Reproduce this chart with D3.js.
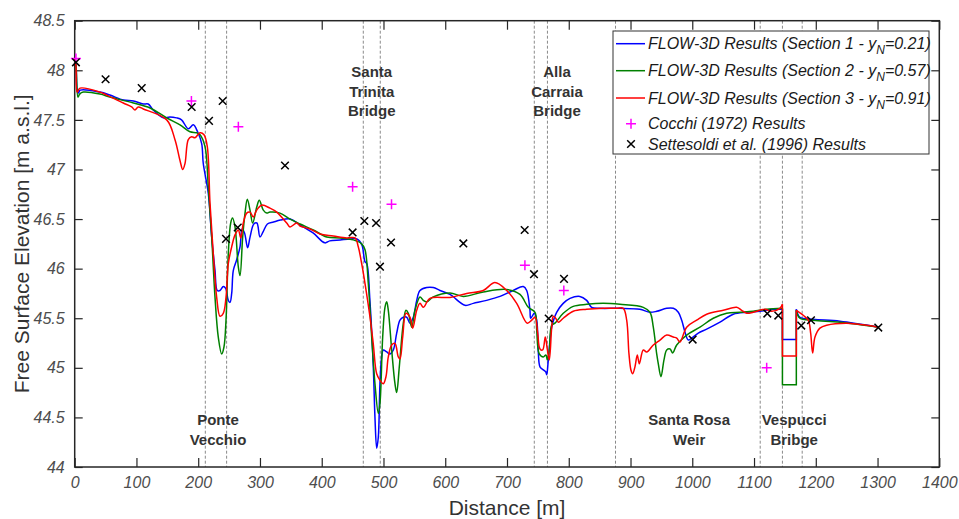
<!DOCTYPE html>
<html><head><meta charset="utf-8">
<script src="https://cdn.jsdelivr.net/npm/d3@7"></script>
<style>body{margin:0;background:#fff} svg{display:block;font-family:"Liberation Sans",Arial,Helvetica,sans-serif}</style>
</head><body><svg id="c" width="959" height="519"></svg>
<script>
// ---------------- DATA ----------------
const xTicks = [0,100,200,300,400,500,600,700,800,900,1000,1100,1200,1300,1400];
const yTicks = [44,44.5,45,45.5,46,46.5,47,47.5,48,48.5];

const section1 = [[0,48.10],[2,48.05],[4,47.80],[6,47.77],[9,47.80],[41,47.78],[57,47.75],[79,47.70],[95,47.69],[111,47.66],[119,47.66],[127,47.60],[143.5,47.52],[154,47.53],[165,47.52],[173,47.50],[184,47.41],[192,47.45],[199,47.38],[205.6,47.26],[208.2,47.06],[216.3,46.76],[221.8,46.32],[227.2,45.98],[230.9,45.78],[235.3,45.78],[240.6,45.82],[244.5,45.80],[248.7,45.68],[251.5,45.66],[254.2,45.75],[256.8,45.98],[262.3,46.09],[267.7,46.22],[271,46.40],[275,46.36],[280,46.21],[284,46.32],[290,46.45],[295,46.46],[300,46.32],[305,46.37],[312,46.45],[322,46.47],[333,46.49],[349,46.50],[365,46.44],[386,46.36],[405,46.26],[413,46.28],[430,46.29],[446,46.30],[457,46.30],[465,46.24],[470,46.07],[473,46.05],[478,45.68],[483.5,45.01],[486.2,44.50],[489,44.19],[491.6,44.30],[494.3,44.84],[497.1,45.11],[499.7,45.18],[505.2,45.16],[510.5,45.14],[515.9,45.18],[521.4,45.35],[526.7,45.48],[532,45.51],[537.6,45.51],[542.9,45.45],[548.3,45.51],[553.8,45.68],[559.1,45.78],[570,45.81],[580.6,45.81],[591.5,45.78],[607.7,45.74],[632,45.63],[645.4,45.65],[667,45.68],[688.7,45.72],[710,45.78],[726.4,45.82],[731.9,45.78],[737.2,45.58],[738.4,45.50],[744.2,45.55],[748.1,45.48],[750.7,45.16],[753.4,45.01],[758.8,44.98],[762.7,44.96],[764.3,44.93],[766.9,45.08],[772.4,45.41],[780.4,45.56],[791,45.65],[802,45.70],[818,45.72],[829,45.68],[837,45.61],[850.5,45.60],[883,45.60],[915,45.59],[931.5,45.56],[942.4,45.57],[958.6,45.60],[969.3,45.60],[977.4,45.56],[982.9,45.48],[988.2,45.36],[993.5,45.28],[999,45.30],[1009.7,45.35],[1023.3,45.39],[1044.9,45.46],[1066.4,45.54],[1088,45.56],[1109.6,45.57],[1131,45.59],[1146,45.59],[1146,45.285],[1168.5,45.285],[1168.5,45.59],[1174.3,45.51],[1196,45.49],[1239,45.47],[1302,45.41]];

const section2 = [[0,48.10],[2,48.05],[5.3,47.73],[8,47.76],[14,47.78],[41,47.76],[57,47.73],[95,47.67],[122,47.62],[149,47.52],[170.5,47.45],[186.7,47.38],[197.5,47.37],[203,47.35],[211,47.23],[216.3,46.83],[221.8,46.32],[227.2,45.71],[232.5,45.31],[238,45.14],[241.7,45.21],[245,45.48],[248.7,46.15],[252.6,46.46],[255.5,46.51],[259.6,46.42],[264.9,46.02],[267.7,45.93],[272,46.32],[275.8,46.56],[279.5,46.70],[283.9,46.59],[288.2,46.46],[294.7,46.62],[298.9,46.69],[305.4,46.59],[311,46.56],[316.2,46.57],[332.4,46.56],[348.6,46.50],[365,46.45],[386.3,46.39],[408,46.32],[429.6,46.31],[451,46.29],[464.7,46.25],[470.1,46.19],[475.4,45.85],[480.9,45.31],[486.2,44.84],[491.6,44.54],[494.3,44.64],[498.7,45.31],[502.4,45.61],[505.2,45.665],[507.8,45.58],[513.3,45.18],[518.6,44.84],[521.4,44.75],[525.6,45.01],[532.1,45.45],[536.4,45.58],[540.2,45.55],[545.7,45.41],[551,45.58],[559.1,45.715],[564.5,45.68],[570,45.665],[580.6,45.715],[607.7,45.755],[629.2,45.72],[661.6,45.765],[699.5,45.79],[721,45.74],[734.5,45.61],[745.4,45.56],[748.1,45.38],[752.3,45.14],[758.8,45.11],[763,45.13],[765.2,45.08],[768.5,45.18],[772.4,45.43],[777.7,45.45],[791.1,45.55],[807.3,45.62],[829,45.64],[855.9,45.65],[883,45.64],[920.7,45.61],[931.5,45.56],[936.9,45.41],[942.4,45.14],[945,45.04],[949.3,44.91],[954.2,45.08],[958.6,45.18],[964,45.19],[968.3,45.15],[974.8,45.23],[990.9,45.33],[1012.5,45.41],[1034,45.50],[1055.7,45.55],[1077.3,45.56],[1098.8,45.57],[1120.5,45.59],[1146,45.60],[1146,44.83],[1168.5,44.83],[1168.5,45.58],[1174.3,45.50],[1196,45.48],[1239,45.46],[1302,45.41]];

const section3 = [[0,48.12],[2,48.05],[4,47.78],[8.6,47.82],[41,47.78],[51.8,47.75],[78.7,47.67],[92.3,47.63],[97.6,47.60],[103,47.63],[111,47.61],[149,47.50],[162.4,47.30],[170.5,47.09],[174.9,47.00],[178.6,47.06],[183.9,47.30],[189.4,47.33],[194.8,47.32],[202.9,47.37],[209.4,47.35],[214.7,47.23],[219.1,46.66],[224.4,46.15],[229.9,45.71],[235.3,45.52],[240.6,45.55],[245,45.71],[248.7,46.05],[254.2,46.22],[259.6,46.34],[264.9,46.39],[269,46.31],[273,46.46],[278.5,46.56],[283.9,46.57],[289.2,46.52],[294.7,46.59],[302.8,46.64],[316.2,46.61],[327.1,46.57],[343.3,46.46],[348.6,46.42],[359.5,46.46],[364.8,46.43],[381,46.40],[397.2,46.35],[418.7,46.33],[440.4,46.31],[453.9,46.31],[459.2,46.22],[464.7,46.05],[470.1,45.85],[478.2,45.51],[483.5,45.24],[489,44.94],[494.3,44.875],[499.7,44.84],[504,44.91],[507.8,45.11],[513.3,45.23],[518.6,45.245],[524,45.11],[526.7,45.09],[531.1,45.31],[536.4,45.55],[542.9,45.51],[547.3,45.40],[553.8,45.58],[559.1,45.65],[564.5,45.61],[575.3,45.70],[607.7,45.71],[634.7,45.75],[661.6,45.78],[680.5,45.86],[699.5,45.78],[715.7,45.65],[732.8,45.45],[740,45.48],[745.4,45.51],[749.7,45.35],[753.4,45.19],[757.8,45.18],[762,45.31],[765.2,45.19],[768.5,45.08],[772.4,45.41],[774.9,45.52],[778.8,45.50],[783,45.46],[791.1,45.50],[807.3,45.57],[829,45.59],[855.9,45.60],[877.6,45.60],[888.3,45.60],[893.8,45.48],[897.5,45.14],[900.8,44.975],[903.5,44.94],[907.2,45.01],[911,45.13],[914.2,45.04],[920.7,45.18],[926.2,45.16],[936.9,45.23],[947.7,45.28],[958.6,45.33],[969.3,45.31],[974.8,45.30],[980.1,45.26],[990.9,45.41],[1007.1,45.48],[1023.3,45.54],[1050.2,45.58],[1071.9,45.61],[1080,45.58],[1088.1,45.55],[1098.8,45.56],[1117.7,45.59],[1128.6,45.57],[1142,45.60],[1146,45.64],[1146,45.12],[1168.5,45.12],[1168.5,45.58],[1179.7,45.53],[1187.8,45.48],[1191.7,45.35],[1194.9,45.15],[1198.7,45.31],[1206.7,45.40],[1217.6,45.43],[1249.9,45.45],[1293,45.42],[1302,45.41]];

const cocchi = [[2,48.12],[189,47.69],[265,47.43],[450,46.825],[513,46.65],[729,46.035],[792,45.78],[1120.5,45.00]];
const settesoldi = [[2,48.08],[50,47.91],[108.5,47.82],[189.4,47.63],[217.5,47.49],[239.6,47.69],[245,46.30],[264,46.415],[340.5,47.04],[450,46.365],[469,46.48],[488,46.46],[494.3,46.02],[512.2,46.264],[629.3,46.254],[728.6,46.39],[743.7,45.944],[767.5,45.497],[792.3,45.897],[1000.6,45.285],[1121.5,45.547],[1139.3,45.527],[1176.5,45.426],[1192.2,45.48],[1301.2,45.406]];

const structureLines = [211.5,246,467.3,494.8,744.2,765.5,875.7,1110,1146,1178];
const structureNames = [["Ponte","Vecchio"],["Santa","Trinita","Bridge"],["Alla","Carraia","Bridge"],["Santa Rosa","Weir"],["Vespucci","Bribge"]];

const seriesNames = ["FLOW-3D Results (Section 1 - y", "FLOW-3D Results (Section 2 - y", "FLOW-3D Results (Section 3 - y"];
const seriesYN = ["=0.21)", "=0.57)", "=0.91)"];
const pointNames = ["Cocchi (1972) Results", "Settesoldi et al. (1996) Results"];

// ---------------- DRAW ----------------
const svg = d3.select('#c');
const m = {l:74.7, r:939.3, t:20.7, b:467};
const x = d3.scaleLinear().domain([0,1400]).range([m.l,m.r]);
const y = d3.scaleLinear().domain([44,48.5]).range([m.b,m.t]);
const colors = ['#0000ff','#008000','#ff0000'];

// dashed structure lines
svg.append('g').selectAll('line').data(structureLines).join('line')
  .attr('x1',d=>x(d)).attr('x2',d=>x(d)).attr('y1',m.t).attr('y2',m.b)
  .attr('stroke','#8a8a8a').attr('stroke-width',1).attr('stroke-dasharray','3,2');

// axes
const tickStyle = g => {
  g.select('.domain').remove();
  g.selectAll('.tick line').attr('stroke','#262626').attr('stroke-width',1.2);
  g.selectAll('.tick text').attr('fill','#4d4d4d').attr('font-size',16).attr('font-style','italic')
    .attr('font-family','"Liberation Sans",Arial,sans-serif');
};
svg.append('g').attr('transform',`translate(0,${m.b})`)
  .call(d3.axisBottom(x).tickValues(xTicks).tickFormat(d=>String(d)).tickSizeInner(-9).tickSizeOuter(0).tickPadding(10)).call(tickStyle);
svg.append('g').attr('transform',`translate(0,${m.t})`)
  .call(d3.axisTop(x).tickValues(xTicks).tickFormat('').tickSizeInner(-9).tickSizeOuter(0)).call(tickStyle);
svg.append('g').attr('transform',`translate(${m.l},0)`)
  .call(d3.axisLeft(y).tickValues(yTicks).tickFormat(d=>String(d)).tickSizeInner(-8).tickSizeOuter(0).tickPadding(10)).call(tickStyle);
svg.append('g').attr('transform',`translate(${m.r},0)`)
  .call(d3.axisRight(y).tickValues(yTicks).tickFormat('').tickSizeInner(-8).tickSizeOuter(0)).call(tickStyle);

// box
svg.append('rect').attr('x',m.l).attr('y',m.t).attr('width',m.r-m.l).attr('height',m.b-m.t)
  .attr('fill','none').attr('stroke','#262626').attr('stroke-width',1.5);

// curves: smooth everywhere, straight through the Vespucci gate steps
const smooth = d3.line().x(d=>x(d[0])).y(d=>y(d[1])).curve(d3.curveCatmullRom.alpha(0.5));
const straight = d3.line().x(d=>x(d[0])).y(d=>y(d[1]));
[section1,section2,section3].forEach((s,i)=>{
  const a = s.findIndex(d=>d[0]===1146);
  let b = -1; s.forEach((d,k)=>{ if(d[0]===1168.5) b=k; });
  const parts = [[s.slice(0,a+1),smooth],[s.slice(a,b+1),straight],[s.slice(b),smooth]];
  parts.forEach(([p,gen])=>{
    svg.append('path').datum(p).attr('d',gen).attr('fill','none')
      .attr('stroke',colors[i]).attr('stroke-width',1.5).attr('stroke-linejoin','miter').attr('stroke-linecap','butt');
  });
});

// markers
const plus = (g,cx,cy,r,c)=>{ g.append('path').attr('d',`M${cx-r},${cy}H${cx+r}M${cx},${cy-r}V${cy+r}`).attr('stroke',c).attr('stroke-width',1.5).attr('fill','none'); };
const cross = (g,cx,cy,r,c)=>{ g.append('path').attr('d',`M${cx-r},${cy-r}L${cx+r},${cy+r}M${cx-r},${cy+r}L${cx+r},${cy-r}`).attr('stroke',c).attr('stroke-width',1.5).attr('fill','none'); };
const mk = svg.append('g');
cocchi.forEach(d=>plus(mk,x(d[0]),y(d[1]),5,'#ff00ff'));
settesoldi.forEach(d=>cross(mk,x(d[0]),y(d[1]),3.8,'#000'));

// structure labels (anchored at data positions)
const labelPos = [[232,44.42],[481,47.93],[781,47.93],[995,44.42],[1165,44.42]];
structureNames.forEach((lines,i)=>{
  const t = svg.append('text').attr('text-anchor','middle').attr('font-size',15).attr('font-weight','bold').attr('fill','#333');
  lines.forEach((s,j)=>t.append('tspan').attr('x',x(labelPos[i][0])).attr('y',y(labelPos[i][1])+j*19.5).text(s));
});

// axis titles
svg.append('text').attr('x',(m.l+m.r)/2).attr('y',515).attr('text-anchor','middle').attr('font-size',21).attr('fill','#333').text('Distance [m]');
svg.append('text').attr('transform',`translate(29,${(m.t+m.b)/2}) rotate(-90)`).attr('text-anchor','middle').attr('font-size',21).attr('fill','#333').text('Free Surface Elevation [m a.s.l.]');

// legend
const lg = svg.append('g');
lg.append('rect').attr('x',613).attr('y',31).attr('width',316).attr('height',123).attr('fill','#fff').attr('stroke','#333').attr('stroke-width',1);
const rows = [43.7,70.7,98,123.7,144];
seriesNames.forEach((n,i)=>{
  lg.append('line').attr('x1',616).attr('x2',645).attr('y1',rows[i]).attr('y2',rows[i]).attr('stroke',colors[i]).attr('stroke-width',1.5);
  const t = lg.append('text').attr('x',648).attr('y',rows[i]+5.5).attr('font-size',16).attr('font-style','italic').attr('fill','#1a1a1a');
  t.append('tspan').text(n);
  t.append('tspan').attr('font-size',12).attr('dy',5).text('N');
  t.append('tspan').attr('dy',-5).text(seriesYN[i]);
});
plus(lg,631,rows[3],5,'#ff00ff');
cross(lg,631,rows[4],3.8,'#000');
pointNames.forEach((n,i)=>{
  lg.append('text').attr('x',648).attr('y',rows[3+i]+5.5).attr('font-size',16).attr('font-style','italic').attr('fill','#1a1a1a').text(n);
});
</script></body></html>
